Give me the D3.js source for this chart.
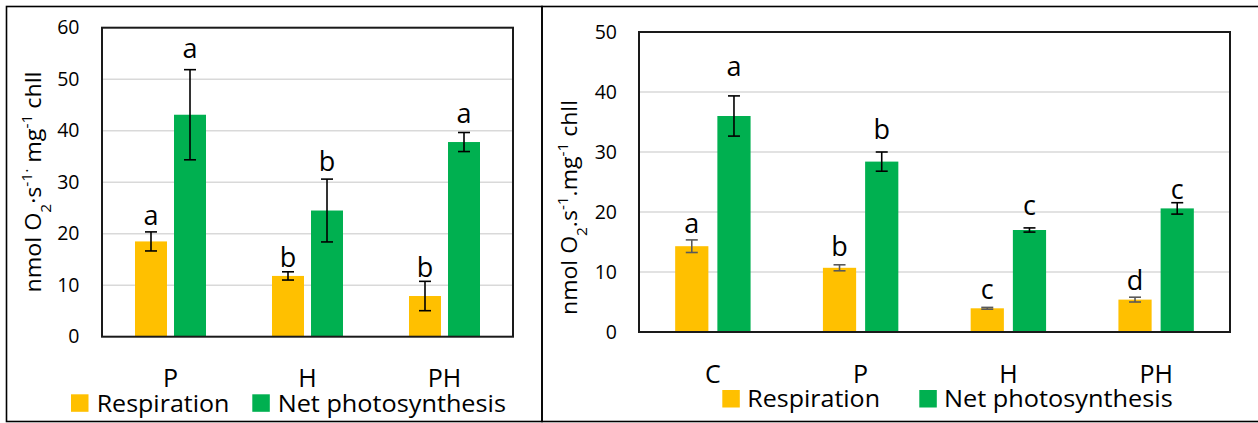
<!DOCTYPE html>
<html><head><meta charset="utf-8">
<script src="https://cdn.jsdelivr.net/npm/d3@7"></script>
<style>
body{margin:0;background:#fff;}
svg text{font-family:"Open Sans",sans-serif;fill:#000;}
</style></head><body>
<svg id="chart" width="1258" height="423"></svg>
<script>
// Left panel: treatments P, H, PH
const catsLeft = ["P", "H", "PH"];
const respLeft = [18.5, 11.8, 7.9];
const respErrLeft = [1.85, 0.8, 2.85];
const netLeft = [43.1, 24.5, 37.8];
const netErrLeft = [8.75, 6.1, 1.85];
const respLettersLeft = ["a", "b", "b"];
const netLettersLeft = ["a", "b", "a"];
const ticksLeft = [0, 10, 20, 30, 40, 50, 60];

// Right panel: control C plus P, H, PH
const catsRight = ["C", "P", "H", "PH"];
const respRight = [14.3, 10.7, 3.95, 5.4];
const respErrRight = [1.05, 0.5, 0.15, 0.4];
const netRight = [36.0, 28.4, 17.0, 20.6];
const netErrRight = [3.35, 1.6, 0.35, 0.95];
const respLettersRight = ["a", "b", "c", "d"];
const netLettersRight = ["a", "b", "c", "c"];
const ticksRight = [0, 10, 20, 30, 40, 50];

const seriesNames = ["Respiration", "Net photosynthesis"];
const seriesKeys = ["resp", "net"];
const colors = { resp: "#FFC000", net: "#00B050" };

const svg = d3.select("#chart");
svg.append("rect").attr("width", 1258).attr("height", 423).attr("fill", "#fff");

// panel frames
svg.append("rect").attr("x", 6.5).attr("y", 6.5).attr("width", 535.5).attr("height", 415)
  .attr("fill", "none").attr("stroke", "#000").attr("stroke-width", 1.6);
svg.append("rect").attr("x", 542).attr("y", 6.5).attr("width", 730).attr("height", 415)
  .attr("fill", "none").attr("stroke", "#000").attr("stroke-width", 1.6);

function drawPanel(cfg) {
  const g = svg.append("g");
  const x0 = d3.scaleBand().domain(cfg.cats).range([cfg.left, cfg.right]).padding(0);
  const x1 = d3.scaleBand().domain(seriesKeys).range([0, x0.bandwidth()])
    .paddingInner(cfg.padIn).paddingOuter(cfg.padOut);
  const y = d3.scaleLinear().domain([0, cfg.yMax]).range([cfg.bottom, cfg.top]);

  // gridlines
  g.append("g").selectAll("line").data(cfg.ticks.filter(t => t > 0 && t < cfg.yMax)).join("line")
    .attr("x1", cfg.left).attr("x2", cfg.right)
    .attr("y1", d => y(d)).attr("y2", d => y(d))
    .attr("stroke", "#d9d9d9").attr("stroke-width", 1.5);

  // y tick labels
  const yAxis = d3.axisLeft(y).tickValues(cfg.ticks).tickSize(0).tickPadding(0);
  const ya = g.append("g").attr("transform", `translate(${cfg.tickX},0)`).call(yAxis);
  ya.select(".domain").remove();
  ya.selectAll("text").attr("font-size", 19.5).attr("font-family", "Open Sans").attr("fill", "#000");

  // bars, error bars and letters
  const rows = cfg.cats.map((c, i) => ({
    cat: c,
    items: [
      { key: "resp", v: cfg.resp[i], e: cfg.respErr[i], letter: cfg.respLetters[i], lift: cfg.liftResp[i] },
      { key: "net", v: cfg.net[i], e: cfg.netErr[i], letter: cfg.netLetters[i], lift: cfg.liftNet[i] }
    ]
  }));
  const grp = g.append("g").selectAll("g").data(rows).join("g")
    .attr("transform", d => `translate(${x0(d.cat)},0)`);
  grp.selectAll("rect").data(d => d.items).join("rect")
    .attr("x", d => x1(d.key)).attr("width", x1.bandwidth())
    .attr("y", d => y(d.v)).attr("height", d => y(0) - y(d.v))
    .attr("fill", d => colors[d.key]);

  const cap = 6;
  const eb = grp.selectAll("g.err").data(d => d.items).join("g").attr("class", "err")
    .attr("stroke", d => cfg.errColor[d.key]).attr("stroke-width", 1.6);
  eb.append("line")
    .attr("x1", d => x1(d.key) + x1.bandwidth() / 2).attr("x2", d => x1(d.key) + x1.bandwidth() / 2)
    .attr("y1", d => y(d.v + d.e)).attr("y2", d => y(d.v - d.e));
  eb.append("line")
    .attr("x1", d => x1(d.key) + x1.bandwidth() / 2 - cap).attr("x2", d => x1(d.key) + x1.bandwidth() / 2 + cap)
    .attr("y1", d => y(d.v + d.e)).attr("y2", d => y(d.v + d.e));
  eb.append("line")
    .attr("x1", d => x1(d.key) + x1.bandwidth() / 2 - cap).attr("x2", d => x1(d.key) + x1.bandwidth() / 2 + cap)
    .attr("y1", d => y(d.v - d.e)).attr("y2", d => y(d.v - d.e));

  grp.selectAll("text.letter").data(d => d.items).join("text").attr("class", "letter")
    .attr("x", d => x1(d.key) + x1.bandwidth() / 2)
    .attr("y", d => y(d.v + d.e) - d.lift)
    .attr("text-anchor", "middle").attr("font-size", 27)
    .text(d => d.letter);

  // plot frame
  g.append("rect").attr("x", cfg.left).attr("y", cfg.top)
    .attr("width", cfg.right - cfg.left).attr("height", cfg.bottom - cfg.top)
    .attr("fill", "none").attr("stroke", "#1a1a1a").attr("stroke-width", 2);

  // category labels
  const xAxis = d3.axisBottom(x0).tickSize(0).tickPadding(0);
  const xa = g.append("g").attr("transform", `translate(0,${cfg.bottom})`).call(xAxis);
  xa.select(".domain").remove();
  xa.selectAll("text").attr("font-size", 25).attr("font-family", "Open Sans").attr("fill", "#000")
    .attr("dy", null).attr("y", cfg.xLabelBase - cfg.bottom);

  // y-axis title
  const t = g.append("text")
    .attr("transform", `translate(${cfg.titleX},${cfg.titleCY}) rotate(-90)`)
    .attr("text-anchor", "middle").attr("font-size", 21)
    .attr("textLength", cfg.titleLen).attr("lengthAdjust", "spacingAndGlyphs");
  cfg.title.forEach(p => {
    const s = t.append("tspan").text(p.t);
    if (p.sub) s.attr("baseline-shift", "sub").attr("font-size", 14);
    if (p.sup) s.attr("baseline-shift", "super").attr("font-size", 14);
  });

  // legend
  const lg = g.append("g");
  seriesKeys.forEach((k, i) => {
    lg.append("rect").attr("x", cfg.legSqX[i]).attr("y", cfg.legTop)
      .attr("width", 17.5).attr("height", 17.5).attr("fill", colors[k]);
    lg.append("text").attr("x", cfg.legTextX[i]).attr("y", cfg.legBase)
      .attr("font-size", 24)
      .attr("textLength", cfg.legLen[i]).attr("lengthAdjust", "spacingAndGlyphs")
      .text(seriesNames[i]);
  });
}

drawPanel({
  cats: catsLeft, resp: respLeft, respErr: respErrLeft, net: netLeft, netErr: netErrLeft,
  respLetters: respLettersLeft, netLetters: netLettersLeft, ticks: ticksLeft, yMax: 60,
  left: 102, right: 513, top: 27.7, bottom: 336.7, padIn: 0.18, padOut: 0.846,
  tickX: 79.5, xLabelBase: 386.7,
  liftResp: [7, 5, 4.6], liftNet: [11.7, 8, 10],
  errColor: { resp: "#000", net: "#000" },
  titleX: 40.5, titleCY: 182, titleLen: 221,
  title: [{ t: "nmol O" }, { t: "2", sub: true }, { t: "·s" }, { t: "-1·", sup: true }, { t: " mg" }, { t: "-1", sup: true }, { t: " chll" }],
  legSqX: [71, 252.3], legTextX: [96.7, 277.7], legLen: [132.7, 228.3], legTop: 394.3, legBase: 411.7
});

drawPanel({
  cats: catsRight, resp: respRight, respErr: respErrRight, net: netRight, netErr: netErrRight,
  respLetters: respLettersRight, netLetters: netLettersRight, ticks: ticksRight, yMax: 50,
  left: 639, right: 1230, top: 32, bottom: 332, padIn: 0.213, padOut: 0.857,
  tickX: 617, xLabelBase: 382.5,
  liftResp: [6.7, 8.7, 8, 7.4], liftNet: [19.7, 13.4, 13, 3.3],
  errColor: { resp: "#595959", net: "#000" },
  titleX: 577, titleCY: 207.5, titleLen: 215,
  title: [{ t: "nmol O" }, { t: "2", sub: true }, { t: ".s" }, { t: "-1", sup: true }, { t: ".mg" }, { t: "-1", sup: true }, { t: " chll" }],
  legSqX: [722.3, 919.3], legTextX: [747.3, 944], legLen: [132.7, 228.7], legTop: 390, legBase: 406.7
});
</script>
</body></html>
